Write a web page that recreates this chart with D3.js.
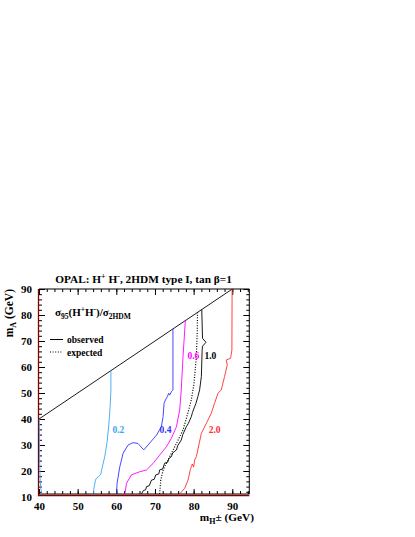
<!DOCTYPE html>
<html>
<head>
<meta charset="utf-8">
<script src="https://cdn.jsdelivr.net/npm/d3@7"></script>
<style>
  body { margin: 0; background: #fff; }
  text { font-family: "Liberation Serif", "Times New Roman", serif; font-weight: bold; }
</style>
</head>
<body>
<svg></svg>
<script>
var margin = {top: 289, left: 39},
    width = 210.3,
    height = 208;

var xTicks = [40, 50, 60, 70, 80, 90],
    yTicks = [10, 20, 30, 40, 50, 60, 70, 80, 90];

// lower edge of the scan in m_A (GeV)
var mAmin = 11.15;

// contours of sigma95(H+H-)/sigma2HDM, points are [m_H+-, m_A] in GeV
var obs02 = [[54.0, 11.2], [54.3, 14.0], [54.6, 16.5], [54.9, 17.3], [55.4, 17.8], [56.0, 18.8],
             [56.3, 21.0], [57.0, 25.5], [57.6, 31.0], [58.1, 38.4], [58.4, 44.8], [58.6, 50.8], [58.6, 58.6]];
var obs02edge = [[40.1, 40.0], [40.15, 25.0], [40.3, 16.0], [40.5, 13.0], [40.8, 11.2]];
var obs04 = [[60.05, 11.2], [60.2, 15.3], [60.9, 21.6], [61.75, 26.8], [63.05, 30.0], [64.3, 30.9],
             [65.6, 30.6], [67.1, 28.1], [68.2, 30.0], [70.4, 33.8], [71.65, 37.0], [72.1, 40.9],
             [72.35, 46.0], [72.7, 47.3], [73.2, 48.6], [73.55, 49.9], [73.8, 49.2], [74.25, 50.5],
             [74.65, 51.2], [74.65, 74.65]];
var obs06 = [[62.2, 11.2], [62.65, 15.3], [63.9, 18.5], [66.05, 19.7], [67.8, 20.4], [69.5, 22.9],
             [71.2, 26.1], [72.95, 29.3], [74.25, 32.6], [75.55, 37.0], [76.4, 43.5], [76.8, 51.2],
             [77.25, 64.0], [77.7, 74.2], [77.85, 77.85]];
var obs10 = [[66.5, 11.2], [67.0, 12.5], [67.6, 12.8], [67.8, 14.0], [68.5, 14.3], [69.1, 16.5],
             [69.8, 16.8], [70.2, 18.5], [71.0, 18.9], [71.2, 20.4], [72.0, 20.8], [72.5, 23.0],
             [73.3, 23.4], [73.6, 24.8], [74.25, 25.5], [74.6, 27.0], [75.55, 28.1], [75.9, 29.8],
             [76.8, 31.9], [77.2, 34.0], [78.1, 37.0], [78.6, 38.2], [79.4, 40.9], [79.7, 42.5],
             [80.25, 44.7], [80.6, 46.0], [81.1, 48.6], [81.55, 51.2], [82.0, 56.3], [82.2, 66.5],
             [82.3, 68.0], [83.2, 69.5], [82.3, 71.0], [82.1, 82.1]];
var exp10 = [[71.2, 11.2], [71.5, 16.5], [72.1, 20.4], [73.8, 25.5], [75.55, 30.6], [77.25, 35.8],
             [78.5, 42.2], [79.4, 47.3], [80.1, 53.7], [80.7, 64.0], [80.95, 74.2], [81.0, 81.0]];
var obs20 = [[76.4, 11.2], [77.7, 13.35], [78.55, 16.5], [79.15, 20.5], [79.4, 21.65], [79.65, 22.7],
             [80.0, 21.5], [80.25, 24.2], [80.7, 25.5], [82.0, 34.5], [83.3, 38.35], [84.55, 42.2],
             [85.4, 46.0], [86.3, 49.9], [87.15, 51.2], [88.0, 56.3], [88.7, 60.8], [88.45, 62.7],
             [89.55, 63.35], [89.9, 66.5], [89.95, 90.0]];
var kinLimit = [[40, 40], [90, 90]];

var contourLabels = ["0.2", "0.4", "0.6", "1.0", "2.0"];

var svg = d3.select("svg")
    .attr("width", 415)
    .attr("height", 537);

var g = svg.append("g")
    .attr("transform", "translate(" + margin.left + "," + margin.top + ")");

var x = d3.scaleLinear().domain([40, 94.4]).range([0, width]);
var y = d3.scaleLinear().domain([10, 90]).range([height, 0]);

var line = d3.line()
    .x(function(d) { return x(d[0]); })
    .y(function(d) { return y(d[1]); });

var base = y(mAmin);

// ticks, all pointing inward
function ticks(axis, tr, vals, size, labels) {
  var a = g.append("g")
      .attr("transform", tr)
      .call(axis.tickValues(vals).tickSizeInner(size).tickSizeOuter(0)
        .tickFormat(labels ? d3.format("d") : ""));
  a.select(".domain").remove();
  a.selectAll("line").attr("stroke", "#000").attr("stroke-width", 1);
  a.attr("font-family", null).attr("font-size", null);
  return a;
}

var xMinor = d3.range(40, 95, 2),
    yMinor = d3.range(12, 91, 2);

var bottom = ticks(d3.axisBottom(x).tickPadding(8), "translate(0," + base + ")", xTicks, -5, true);
bottom.selectAll("text").style("font-size", "11px");
ticks(d3.axisBottom(x), "translate(0," + base + ")", xMinor, -3, false);
ticks(d3.axisBottom(x), "translate(0,0)", xTicks, 6, false);
ticks(d3.axisBottom(x), "translate(0,0)", xMinor, 3, false);

var left = ticks(d3.axisLeft(y).tickPadding(7), "translate(0,0)", yTicks, -6, true);
left.selectAll("text").style("font-size", "11px");
left.selectAll(".tick line").filter(function(d) { return d < mAmin; }).remove();
ticks(d3.axisLeft(y), "translate(0,0)", yMinor, -3, false);
ticks(d3.axisLeft(y), "translate(" + width + ",0)", yTicks.filter(function(d) { return d > mAmin; }), 6, false);
ticks(d3.axisLeft(y), "translate(" + width + ",0)", yMinor, 3, false);

// frame
g.append("line").attr("x1", 0).attr("x2", width).attr("y1", 0).attr("y2", 0)
    .attr("stroke", "#000");
g.append("line").attr("x1", width).attr("x2", width).attr("y1", 0).attr("y2", base)
    .attr("stroke", "#000");
g.append("line").attr("x1", 0).attr("x2", width).attr("y1", base).attr("y2", base)
    .attr("stroke", "#000").attr("stroke-width", 1.2);
g.append("line").attr("x1", 0).attr("x2", width).attr("y1", base + 1.6).attr("y2", base + 1.6)
    .attr("stroke", "#800000").attr("stroke-width", 1.5);
g.append("line").attr("x1", -0.5).attr("x2", -0.5).attr("y1", 0).attr("y2", base + 2.3)
    .attr("stroke", "#800000").attr("stroke-width", 1.3);

// kinematic limit m_A = m_H+-
g.append("path").datum(kinLimit)
    .attr("d", line).attr("fill", "none").attr("stroke", "#000").attr("stroke-width", 0.9);

var curves = [
  {pts: obs02edge, color: "#3aa6f4"},
  {pts: obs02, color: "#3aa6f4"},
  {pts: obs04, color: "#3333ff"},
  {pts: obs06, color: "#ff00ff"},
  {pts: obs10, color: "#000"},
  {pts: exp10, color: "#000", dash: "1,1.6"},
  {pts: obs20, color: "#ff3030"}
];

g.selectAll(".contour")
    .data(curves)
  .enter().append("path")
    .attr("class", "contour")
    .attr("d", function(d) { return line(d.pts); })
    .attr("fill", "none")
    .attr("stroke", function(d) { return d.color; })
    .attr("stroke-width", function(d) { return d.dash ? 1.2 : 0.9; })
    .attr("stroke-dasharray", function(d) { return d.dash || null; });

// contour labels
var labelPos = [[59.0, 34.8, "#3aa6f4"], [71.2, 34.8, "#3333ff"], [78.4, 63.1, "#ff00ff"],
                [82.8, 63.1, "#000"], [83.9, 34.6, "#ff3030"]];
g.selectAll(".clabel")
    .data(contourLabels)
  .enter().append("text")
    .attr("class", "clabel")
    .attr("x", function(d, i) { return x(labelPos[i][0]); })
    .attr("y", function(d, i) { return y(labelPos[i][1]); })
    .attr("fill", function(d, i) { return labelPos[i][2]; })
    .style("font-size", "9.5px")
    .text(function(d) { return d; });

// title
var title = svg.append("text")
    .attr("x", 143.5).attr("y", 283)
    .attr("text-anchor", "middle")
    .style("font-size", "11.3px");
title.append("tspan").text("OPAL: H");
title.append("tspan").attr("dy", -4).style("font-size", "8px").text("+");
title.append("tspan").attr("dy", 4).text(" H");
title.append("tspan").attr("dy", -4).style("font-size", "8px").text("-");
title.append("tspan").attr("dy", 4).text(", 2HDM type I, tan \u03b2=1");

// y axis title
var ytitle = svg.append("text")
    .attr("transform", "translate(13,289) rotate(-90)")
    .attr("text-anchor", "end")
    .style("font-size", "11.5px");
ytitle.append("tspan").text("m");
ytitle.append("tspan").attr("dy", 3).style("font-size", "8px").text("A");
ytitle.append("tspan").attr("dy", -3).text(" (GeV)");

// x axis title
var xtitle = svg.append("text")
    .attr("x", 254).attr("y", 521)
    .attr("text-anchor", "end")
    .style("font-size", "11.3px");
xtitle.append("tspan").text("m");
xtitle.append("tspan").attr("dy", 3).style("font-size", "8px").text("H");
xtitle.append("tspan").attr("dy", -3).text("\u00b1 (GeV)");

// legend
var leg = svg.append("text")
    .attr("x", 55).attr("y", 316)
    .style("font-size", "11px");
leg.append("tspan").text("\u03c3");
leg.append("tspan").attr("dy", 3).style("font-size", "7.5px").text("95");
leg.append("tspan").attr("dy", -3).text("(H");
leg.append("tspan").attr("dy", -4).style("font-size", "7.5px").text("+");
leg.append("tspan").attr("dy", 4).text("H");
leg.append("tspan").attr("dy", -4).style("font-size", "7.5px").text("-");
leg.append("tspan").attr("dy", 4).text(")/\u03c3");
leg.append("tspan").attr("dy", 3).style("font-size", "7.5px").text("2HDM");

svg.append("line").attr("x1", 50).attr("x2", 63).attr("y1", 339.5).attr("y2", 339.5)
    .attr("stroke", "#000");
svg.append("text").attr("x", 67).attr("y", 343).style("font-size", "9.5px").text("observed");
svg.append("line").attr("x1", 50).attr("x2", 63).attr("y1", 352).attr("y2", 352)
    .attr("stroke", "#000").attr("stroke-width", 1.2).attr("stroke-dasharray", "1,1.6");
svg.append("text").attr("x", 67).attr("y", 355.5).style("font-size", "9.5px").text("expected");
</script>
</body>
</html>
